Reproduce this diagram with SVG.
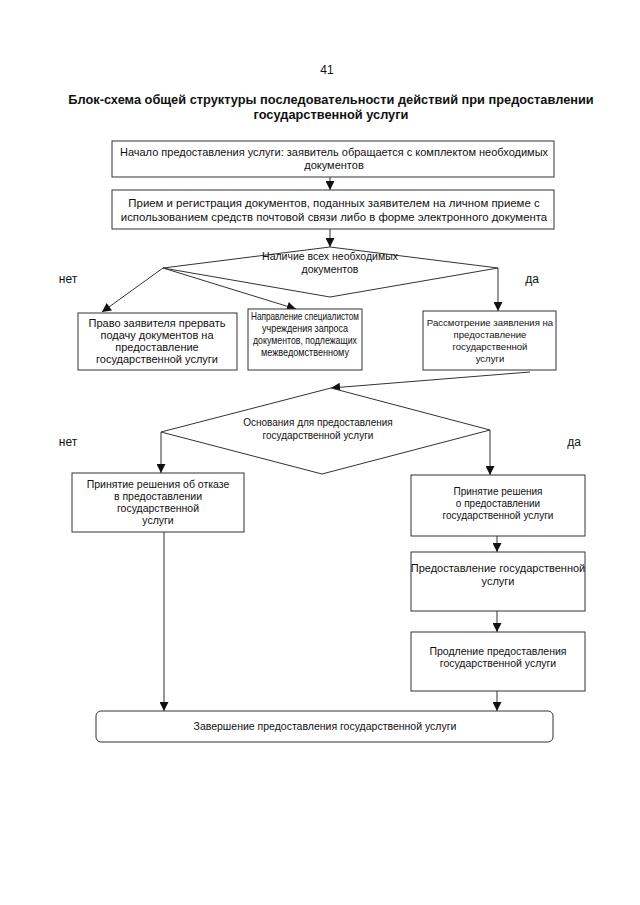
<svg xmlns="http://www.w3.org/2000/svg" width="640" height="905" viewBox="0 0 640 905">
<defs>
<marker id="ah" viewBox="0 0 10 10" refX="10" refY="5" markerWidth="10" markerHeight="9" markerUnits="userSpaceOnUse" orient="auto">
<path d="M0,0 L10,5 L0,10 z" fill="#111"/>
</marker>
<style>
.t{font-family:"Liberation Sans",Arial,sans-serif;font-size:10.5px;fill:#111;text-anchor:middle}
.h{font-family:"Liberation Sans",Arial,sans-serif;font-size:12.8px;font-weight:bold;fill:#111;text-anchor:middle}
.y{font-family:"Liberation Sans",Arial,sans-serif;font-size:12px;fill:#111;text-anchor:middle}
.b{fill:#fff;stroke:#333;stroke-width:1}
.c{fill:none;stroke:#333;stroke-width:1;marker-end:url(#ah)}
</style>
</defs>
<rect width="640" height="905" fill="#fff"/>
<text class="y" x="327" y="74">41</text>
<text class="h" x="331" y="104">Блок-схема общей структуры последовательности действий при предоставлении</text>
<text class="h" x="331" y="119">государственной услуги</text>

<g id="connectors">
<line class="c" x1="330" y1="177" x2="330" y2="190"/>
<line class="c" x1="330" y1="229" x2="330" y2="247"/>
<line class="c" x1="163" y1="268" x2="102" y2="312"/>
<line class="c" x1="163" y1="268" x2="296" y2="309"/>
<line class="c" x1="498" y1="268" x2="498" y2="311"/>
<line class="c" x1="530" y1="372" x2="331" y2="388"/>
<line class="c" x1="161" y1="432" x2="161" y2="473"/>
<line class="c" x1="490" y1="430" x2="490" y2="475"/>
<line class="c" x1="497" y1="536" x2="497" y2="552"/>
<line class="c" x1="497" y1="611" x2="497" y2="632"/>
<line class="c" x1="497" y1="691" x2="497" y2="711"/>
<line class="c" x1="164" y1="532" x2="164" y2="711"/>
</g>

<g id="n1"><rect class="b" x="112" y="141" width="442" height="36"/>
<text class="t" x="334" y="156" style="font-size:11px">Начало предоставления услуги: заявитель обращается с комплектом необходимых</text>
<text class="t" x="334" y="169" style="font-size:11px">документов</text></g>

<g id="n2"><rect class="b" x="112" y="190" width="442" height="39"/>
<text class="t" x="334" y="207" style="font-size:11.4px">Прием и регистрация документов, поданных заявителем на личном приеме с</text>
<text class="t" x="334" y="221" style="font-size:11.4px">использованием средств почтовой связи либо в форме электронного документа</text></g>

<g id="d1"><polygon class="b" points="163,268 330,247 498,268 330,297"/>
<text class="t" x="330" y="260">Наличие всех необходимых</text>
<text class="t" x="330" y="273">документов</text></g>

<text class="y" x="68" y="283">нет</text>
<text class="y" x="532" y="283">да</text>

<g id="nA"><rect class="b" x="78" y="313" width="159" height="57"/>
<text class="t" x="157" y="327" style="font-size:11px">Право заявителя прервать</text>
<text class="t" x="157" y="339" style="font-size:11px">подачу документов на</text>
<text class="t" x="157" y="351" style="font-size:11px">предоставление</text>
<text class="t" x="157" y="363" style="font-size:11px">государственной услуги</text></g>

<g id="nB"><rect class="b" x="248" y="309" width="114" height="61"/>
<text class="t" x="305" y="320" textLength="108" lengthAdjust="spacingAndGlyphs">Направление специалистом</text>
<text class="t" x="305" y="332" textLength="86" lengthAdjust="spacingAndGlyphs">учреждения запроса</text>
<text class="t" x="305" y="344" textLength="104" lengthAdjust="spacingAndGlyphs">документов, подлежащих</text>
<text class="t" x="305" y="356" textLength="88" lengthAdjust="spacingAndGlyphs">межведомственному</text></g>

<g id="nC"><rect class="b" x="423" y="311" width="133" height="59"/>
<text class="t" x="490" y="326" style="font-size:9.6px">Рассмотрение заявления на</text>
<text class="t" x="490" y="338" style="font-size:9.6px">предоставление</text>
<text class="t" x="490" y="350" style="font-size:9.6px">государственной</text>
<text class="t" x="490" y="362" style="font-size:9.6px">услуги</text></g>

<g id="d2"><polygon class="b" points="161,432 331,388 490,430 322,474"/>
<text class="t" x="318" y="426" style="font-size:10px">Основания для предоставления</text>
<text class="t" x="318" y="439" style="font-size:10px">государственной услуги</text></g>

<text class="y" x="68" y="446">нет</text>
<text class="y" x="574" y="446">да</text>

<g id="nD"><rect class="b" x="72" y="473" width="172" height="59"/>
<text class="t" x="158" y="488">Принятие решения об отказе</text>
<text class="t" x="158" y="500">в предоставлении</text>
<text class="t" x="158" y="512">государственной</text>
<text class="t" x="158" y="524">услуги</text></g>

<g id="nE"><rect class="b" x="411" y="475" width="174" height="61"/>
<text class="t" x="498" y="495" style="font-size:10px">Принятие решения</text>
<text class="t" x="498" y="507" style="font-size:10px">о предоставлении</text>
<text class="t" x="498" y="519" style="font-size:10px">государственной услуги</text></g>

<g id="nF"><rect class="b" x="411" y="552" width="174" height="59"/>
<text class="t" x="498" y="572" style="font-size:11px">Предоставление государственной</text>
<text class="t" x="498" y="585" style="font-size:11px">услуги</text></g>

<g id="nG"><rect class="b" x="411" y="632" width="174" height="59"/>
<text class="t" x="498" y="655">Продление предоставления</text>
<text class="t" x="498" y="667">государственной услуги</text></g>

<g id="nEnd"><rect class="b" x="96" y="711" width="457" height="31" rx="5"/>
<text class="t" x="325" y="730">Завершение предоставления государственной услуги</text></g>
</svg>
